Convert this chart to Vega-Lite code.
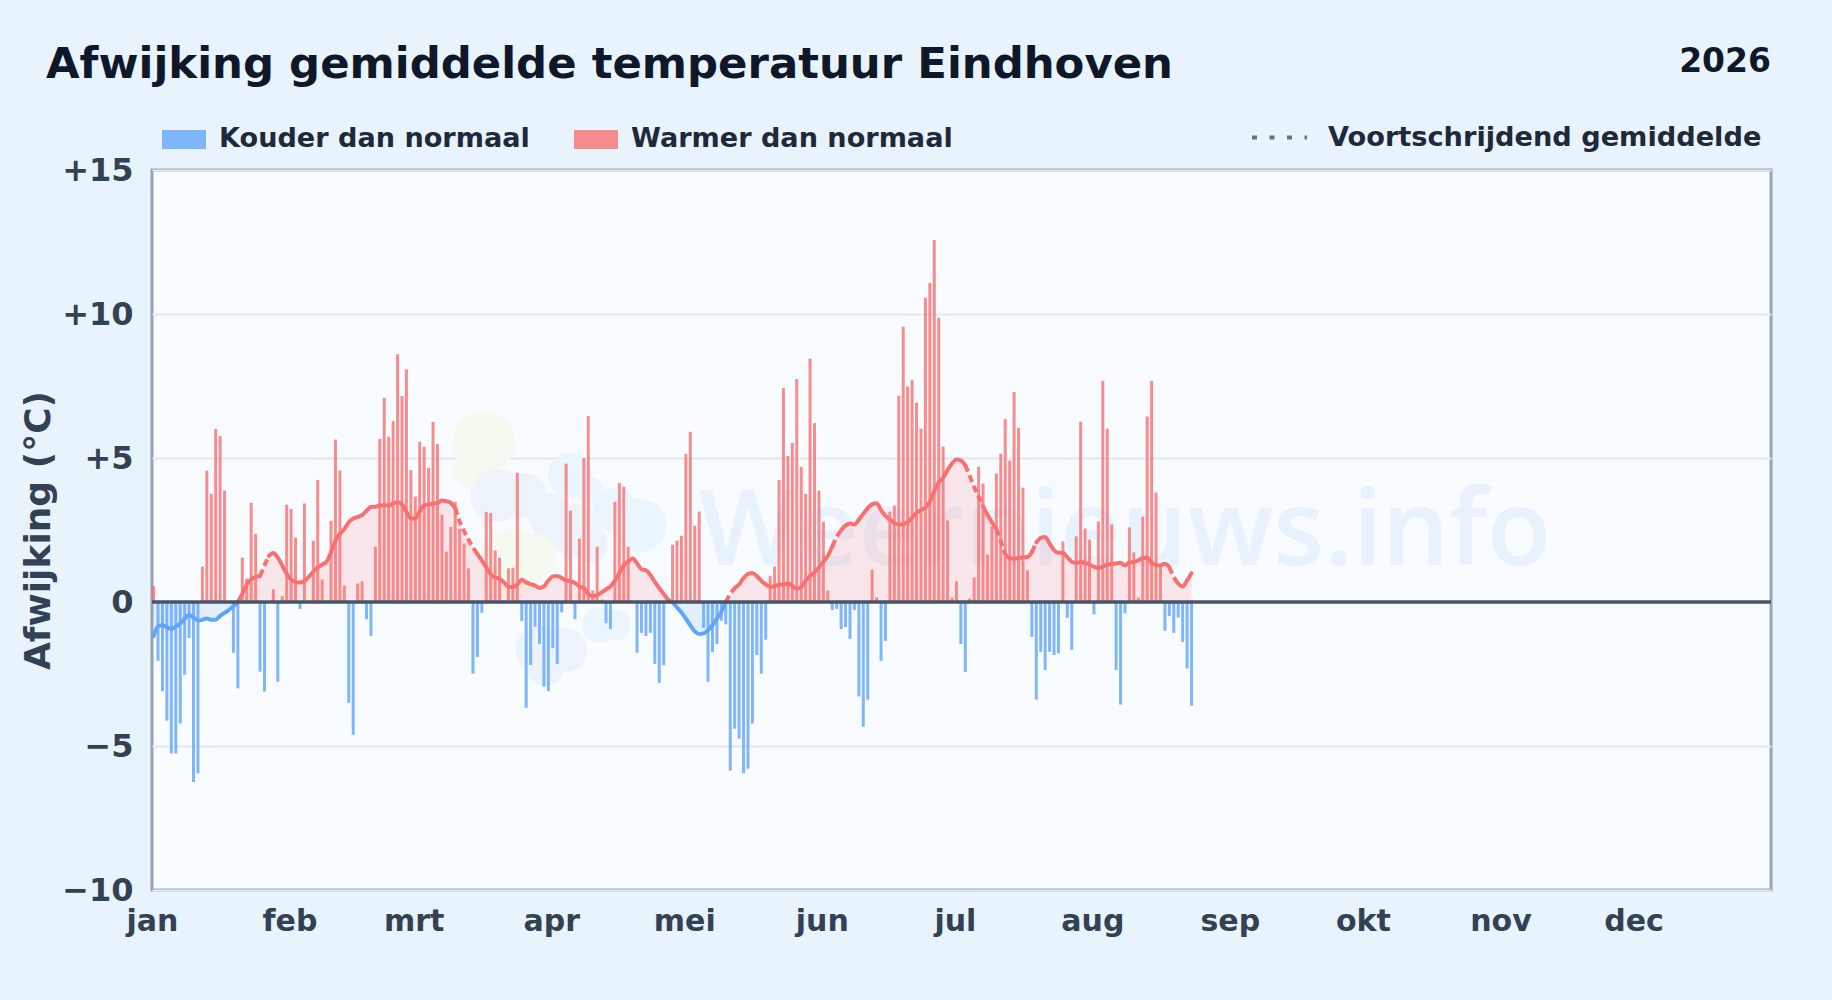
{"$schema":"https://vega.github.io/schema/vega-lite/v6.json","autosize":{"type":"none"},"width":1619,"height":720,"padding":{"left":152,"top":170,"right":61,"bottom":110},"background":"#e8f3fc",
"title":{"text":"Afwijking gemiddelde temperatuur Eindhoven","anchor":"start","frame":"group","dx":-106,"dy":75,"offset":0,"baseline":"alphabetic","font":"DejaVu Sans","fontWeight":"bold","fontSize":43.4,"color":"#0f172a"},
"view":{"fill":"#f8fbff","stroke":"#94a3b8","strokeWidth":3},
"datasets":{
"staven":[{"dag":0,"w":0.55,"s":"W"},{"dag":1,"w":-2.04,"s":"K"},{"dag":2,"w":-3.1,"s":"K"},{"dag":3,"w":-4.12,"s":"K"},{"dag":4,"w":-5.26,"s":"K"},{"dag":5,"w":-5.26,"s":"K"},{"dag":6,"w":-4.22,"s":"K"},{"dag":7,"w":-2.53,"s":"K"},{"dag":8,"w":-1.25,"s":"K"},{"dag":9,"w":-6.25,"s":"K"},{"dag":10,"w":-5.95,"s":"K"},{"dag":11,"w":1.23,"s":"W"},{"dag":12,"w":4.56,"s":"W"},{"dag":13,"w":3.76,"s":"W"},{"dag":14,"w":6.01,"s":"W"},{"dag":15,"w":5.76,"s":"W"},{"dag":16,"w":3.87,"s":"W"},{"dag":17,"w":0,"s":"W"},{"dag":18,"w":-1.76,"s":"K"},{"dag":19,"w":-3.0,"s":"K"},{"dag":20,"w":1.54,"s":"W"},{"dag":21,"w":0.81,"s":"W"},{"dag":22,"w":3.44,"s":"W"},{"dag":23,"w":2.37,"s":"W"},{"dag":24,"w":-2.42,"s":"K"},{"dag":25,"w":-3.11,"s":"K"},{"dag":26,"w":0,"s":"W"},{"dag":27,"w":0.44,"s":"W"},{"dag":28,"w":-2.77,"s":"K"},{"dag":29,"w":0.2,"s":"W"},{"dag":30,"w":3.38,"s":"W"},{"dag":31,"w":3.23,"s":"W"},{"dag":32,"w":2.24,"s":"W"},{"dag":33,"w":-0.24,"s":"K"},{"dag":34,"w":3.42,"s":"W"},{"dag":35,"w":0,"s":"W"},{"dag":36,"w":2.13,"s":"W"},{"dag":37,"w":4.24,"s":"W"},{"dag":38,"w":0.78,"s":"W"},{"dag":39,"w":0,"s":"W"},{"dag":40,"w":2.82,"s":"W"},{"dag":41,"w":5.64,"s":"W"},{"dag":42,"w":4.56,"s":"W"},{"dag":43,"w":0.57,"s":"W"},{"dag":44,"w":-3.5,"s":"K"},{"dag":45,"w":-4.61,"s":"K"},{"dag":46,"w":0.64,"s":"W"},{"dag":47,"w":0.72,"s":"W"},{"dag":48,"w":-0.6,"s":"K"},{"dag":49,"w":-1.18,"s":"K"},{"dag":50,"w":1.92,"s":"W"},{"dag":51,"w":5.66,"s":"W"},{"dag":52,"w":7.09,"s":"W"},{"dag":53,"w":5.74,"s":"W"},{"dag":54,"w":6.28,"s":"W"},{"dag":55,"w":8.6,"s":"W"},{"dag":56,"w":7.15,"s":"W"},{"dag":57,"w":8.08,"s":"W"},{"dag":58,"w":4.58,"s":"W"},{"dag":59,"w":3.66,"s":"W"},{"dag":60,"w":5.56,"s":"W"},{"dag":61,"w":5.39,"s":"W"},{"dag":62,"w":4.66,"s":"W"},{"dag":63,"w":6.25,"s":"W"},{"dag":64,"w":5.48,"s":"W"},{"dag":65,"w":3.03,"s":"W"},{"dag":66,"w":1.75,"s":"W"},{"dag":67,"w":2.61,"s":"W"},{"dag":68,"w":3.48,"s":"W"},{"dag":69,"w":2.54,"s":"W"},{"dag":70,"w":2.03,"s":"W"},{"dag":71,"w":1.17,"s":"W"},{"dag":72,"w":-2.49,"s":"K"},{"dag":73,"w":-1.91,"s":"K"},{"dag":74,"w":-0.37,"s":"K"},{"dag":75,"w":3.13,"s":"W"},{"dag":76,"w":3.09,"s":"W"},{"dag":77,"w":1.79,"s":"W"},{"dag":78,"w":1.54,"s":"W"},{"dag":79,"w":0,"s":"W"},{"dag":80,"w":1.17,"s":"W"},{"dag":81,"w":1.19,"s":"W"},{"dag":82,"w":4.49,"s":"W"},{"dag":83,"w":-0.66,"s":"K"},{"dag":84,"w":-3.67,"s":"K"},{"dag":85,"w":-2.19,"s":"K"},{"dag":86,"w":-0.86,"s":"K"},{"dag":87,"w":-1.46,"s":"K"},{"dag":88,"w":-2.94,"s":"K"},{"dag":89,"w":-3.09,"s":"K"},{"dag":90,"w":-1.59,"s":"K"},{"dag":91,"w":-2.15,"s":"K"},{"dag":92,"w":-0.36,"s":"K"},{"dag":93,"w":4.8,"s":"W"},{"dag":94,"w":3.17,"s":"W"},{"dag":95,"w":-0.6,"s":"K"},{"dag":96,"w":2.2,"s":"W"},{"dag":97,"w":5.0,"s":"W"},{"dag":98,"w":6.46,"s":"W"},{"dag":99,"w":0.4,"s":"W"},{"dag":100,"w":1.92,"s":"W"},{"dag":101,"w":0.08,"s":"W"},{"dag":102,"w":-0.74,"s":"K"},{"dag":103,"w":-0.94,"s":"K"},{"dag":104,"w":3.48,"s":"W"},{"dag":105,"w":4.13,"s":"W"},{"dag":106,"w":4.0,"s":"W"},{"dag":107,"w":1.92,"s":"W"},{"dag":108,"w":0,"s":"W"},{"dag":109,"w":-1.76,"s":"K"},{"dag":110,"w":-1.07,"s":"K"},{"dag":111,"w":-1.18,"s":"K"},{"dag":112,"w":-1.07,"s":"K"},{"dag":113,"w":-2.15,"s":"K"},{"dag":114,"w":-2.81,"s":"K"},{"dag":115,"w":-2.2,"s":"K"},{"dag":116,"w":0,"s":"W"},{"dag":117,"w":1.99,"s":"W"},{"dag":118,"w":2.13,"s":"W"},{"dag":119,"w":2.3,"s":"W"},{"dag":120,"w":5.14,"s":"W"},{"dag":121,"w":5.91,"s":"W"},{"dag":122,"w":2.65,"s":"W"},{"dag":123,"w":3.14,"s":"W"},{"dag":124,"w":-0.9,"s":"K"},{"dag":125,"w":-2.77,"s":"K"},{"dag":126,"w":-1.74,"s":"K"},{"dag":127,"w":-1.46,"s":"K"},{"dag":128,"w":-0.65,"s":"K"},{"dag":129,"w":-0.78,"s":"K"},{"dag":130,"w":-5.85,"s":"K"},{"dag":131,"w":-4.4,"s":"K"},{"dag":132,"w":-4.74,"s":"K"},{"dag":133,"w":-5.95,"s":"K"},{"dag":134,"w":-5.79,"s":"K"},{"dag":135,"w":-4.22,"s":"K"},{"dag":136,"w":-1.84,"s":"K"},{"dag":137,"w":-2.49,"s":"K"},{"dag":138,"w":-1.31,"s":"K"},{"dag":139,"w":0.91,"s":"W"},{"dag":140,"w":1.23,"s":"W"},{"dag":141,"w":4.24,"s":"W"},{"dag":142,"w":7.43,"s":"W"},{"dag":143,"w":5.07,"s":"W"},{"dag":144,"w":5.52,"s":"W"},{"dag":145,"w":7.74,"s":"W"},{"dag":146,"w":4.69,"s":"W"},{"dag":147,"w":3.76,"s":"W"},{"dag":148,"w":8.45,"s":"W"},{"dag":149,"w":6.21,"s":"W"},{"dag":150,"w":3.87,"s":"W"},{"dag":151,"w":2.79,"s":"W"},{"dag":152,"w":0.4,"s":"W"},{"dag":153,"w":-0.28,"s":"K"},{"dag":154,"w":-0.24,"s":"K"},{"dag":155,"w":-0.94,"s":"K"},{"dag":156,"w":-0.87,"s":"K"},{"dag":157,"w":-1.28,"s":"K"},{"dag":158,"w":-0.28,"s":"K"},{"dag":159,"w":-3.28,"s":"K"},{"dag":160,"w":-4.33,"s":"K"},{"dag":161,"w":-3.39,"s":"K"},{"dag":162,"w":1.13,"s":"W"},{"dag":163,"w":0.16,"s":"W"},{"dag":164,"w":-2.04,"s":"K"},{"dag":165,"w":-1.35,"s":"K"},{"dag":166,"w":3.13,"s":"W"},{"dag":167,"w":3.35,"s":"W"},{"dag":168,"w":7.16,"s":"W"},{"dag":169,"w":9.56,"s":"W"},{"dag":170,"w":7.48,"s":"W"},{"dag":171,"w":7.71,"s":"W"},{"dag":172,"w":6.92,"s":"W"},{"dag":173,"w":6.02,"s":"W"},{"dag":174,"w":10.56,"s":"W"},{"dag":175,"w":11.08,"s":"W"},{"dag":176,"w":12.57,"s":"W"},{"dag":177,"w":9.87,"s":"W"},{"dag":178,"w":5.4,"s":"W"},{"dag":179,"w":2.83,"s":"W"},{"dag":180,"w":0.15,"s":"W"},{"dag":181,"w":0.72,"s":"W"},{"dag":182,"w":-1.46,"s":"K"},{"dag":183,"w":-2.43,"s":"K"},{"dag":184,"w":0.12,"s":"W"},{"dag":185,"w":0.85,"s":"W"},{"dag":186,"w":4.7,"s":"W"},{"dag":187,"w":4.11,"s":"W"},{"dag":188,"w":1.65,"s":"W"},{"dag":189,"w":2.62,"s":"W"},{"dag":190,"w":4.46,"s":"W"},{"dag":191,"w":5.15,"s":"W"},{"dag":192,"w":6.35,"s":"W"},{"dag":193,"w":4.91,"s":"W"},{"dag":194,"w":7.29,"s":"W"},{"dag":195,"w":6.05,"s":"W"},{"dag":196,"w":3.97,"s":"W"},{"dag":197,"w":1.1,"s":"W"},{"dag":198,"w":-1.21,"s":"K"},{"dag":199,"w":-3.39,"s":"K"},{"dag":200,"w":-1.73,"s":"K"},{"dag":201,"w":-2.36,"s":"K"},{"dag":202,"w":-1.73,"s":"K"},{"dag":203,"w":-1.84,"s":"K"},{"dag":204,"w":-1.78,"s":"K"},{"dag":205,"w":2.1,"s":"W"},{"dag":206,"w":-0.55,"s":"K"},{"dag":207,"w":-1.66,"s":"K"},{"dag":208,"w":2.28,"s":"W"},{"dag":209,"w":6.26,"s":"W"},{"dag":210,"w":2.55,"s":"W"},{"dag":211,"w":2.17,"s":"W"},{"dag":212,"w":-0.43,"s":"K"},{"dag":213,"w":2.8,"s":"W"},{"dag":214,"w":7.68,"s":"W"},{"dag":215,"w":6.02,"s":"W"},{"dag":216,"w":2.69,"s":"W"},{"dag":217,"w":-2.36,"s":"K"},{"dag":218,"w":-3.56,"s":"K"},{"dag":219,"w":-0.39,"s":"K"},{"dag":220,"w":2.59,"s":"W"},{"dag":221,"w":1.72,"s":"W"},{"dag":222,"w":0.15,"s":"W"},{"dag":223,"w":2.97,"s":"W"},{"dag":224,"w":6.44,"s":"W"},{"dag":225,"w":7.68,"s":"W"},{"dag":226,"w":3.8,"s":"W"},{"dag":227,"w":1.27,"s":"W"},{"dag":228,"w":-1.0,"s":"K"},{"dag":229,"w":-0.49,"s":"K"},{"dag":230,"w":-1.07,"s":"K"},{"dag":231,"w":-0.54,"s":"K"},{"dag":232,"w":-1.39,"s":"K"},{"dag":233,"w":-2.31,"s":"K"},{"dag":234,"w":-3.6,"s":"K"}],
"lijn":[{"dag":0,"g":-1.18,"s":"K","d":1},{"dag":1,"g":-0.85,"s":"K","d":1},{"dag":2,"g":-0.81,"s":"K","d":1},{"dag":3,"g":-0.88,"s":"K","d":1},{"dag":4,"g":-0.94,"s":"K","d":1},{"dag":5,"g":-0.85,"s":"K","d":1},{"dag":6,"g":-0.75,"s":"K","d":1},{"dag":7,"g":-0.58,"s":"K","d":1},{"dag":8,"g":-0.45,"s":"K","d":1},{"dag":9,"g":-0.54,"s":"K","d":1},{"dag":10,"g":-0.64,"s":"K","d":1},{"dag":11,"g":-0.62,"s":"K","d":1},{"dag":12,"g":-0.57,"s":"K","d":1},{"dag":13,"g":-0.62,"s":"K","d":1},{"dag":14,"g":-0.62,"s":"K","d":1},{"dag":15,"g":-0.48,"s":"K","d":1},{"dag":16,"g":-0.38,"s":"K","d":1},{"dag":17,"g":-0.27,"s":"K","d":1},{"dag":18,"g":-0.15,"s":"K","d":1},{"dag":19,"g":0,"s":"K","d":1},
{"dag":19,"g":0,"s":"W","d":2},{"dag":20,"g":0.28,"s":"W","d":2},{"dag":21,"g":0.61,"s":"W","d":2},{"dag":22,"g":0.78,"s":"W","d":2},{"dag":23,"g":0.87,"s":"W","d":2},{"dag":24,"g":0.9,"s":"W","d":2},
{"dag":24,"g":0.9,"s":"W","d":3},{"dag":25,"g":1.27,"s":"W","d":3},{"dag":26,"g":1.6,"s":"W","d":3},
{"dag":26,"g":1.6,"s":"W","d":4},{"dag":27,"g":1.7,"s":"W","d":4},{"dag":28,"g":1.54,"s":"W","d":4},{"dag":29,"g":1.27,"s":"W","d":4},{"dag":30,"g":0.98,"s":"W","d":4},{"dag":31,"g":0.78,"s":"W","d":4},{"dag":32,"g":0.7,"s":"W","d":4},{"dag":33,"g":0.68,"s":"W","d":4},{"dag":34,"g":0.73,"s":"W","d":4},{"dag":35,"g":0.87,"s":"W","d":4},{"dag":36,"g":1.05,"s":"W","d":4},{"dag":37,"g":1.2,"s":"W","d":4},{"dag":38,"g":1.3,"s":"W","d":4},{"dag":39,"g":1.4,"s":"W","d":4},{"dag":40,"g":1.73,"s":"W","d":4},{"dag":41,"g":2.13,"s":"W","d":4},{"dag":42,"g":2.37,"s":"W","d":4},{"dag":43,"g":2.53,"s":"W","d":4},{"dag":44,"g":2.77,"s":"W","d":4},{"dag":45,"g":2.9,"s":"W","d":4},{"dag":46,"g":2.95,"s":"W","d":4},{"dag":47,"g":3.02,"s":"W","d":4},{"dag":48,"g":3.17,"s":"W","d":4},{"dag":49,"g":3.3,"s":"W","d":4},{"dag":50,"g":3.31,"s":"W","d":4},{"dag":51,"g":3.35,"s":"W","d":4},{"dag":52,"g":3.36,"s":"W","d":4},{"dag":53,"g":3.35,"s":"W","d":4},{"dag":54,"g":3.42,"s":"W","d":4},{"dag":55,"g":3.46,"s":"W","d":4},{"dag":56,"g":3.39,"s":"W","d":4},{"dag":57,"g":3.13,"s":"W","d":4},{"dag":58,"g":2.9,"s":"W","d":4},{"dag":59,"g":2.9,"s":"W","d":4},{"dag":60,"g":3.15,"s":"W","d":4},{"dag":61,"g":3.35,"s":"W","d":4},{"dag":62,"g":3.39,"s":"W","d":4},{"dag":63,"g":3.42,"s":"W","d":4},{"dag":64,"g":3.44,"s":"W","d":4},{"dag":65,"g":3.52,"s":"W","d":4},{"dag":66,"g":3.5,"s":"W","d":4},{"dag":67,"g":3.44,"s":"W","d":4},{"dag":68,"g":3.26,"s":"W","d":4},
{"dag":68,"g":3.26,"s":"W","d":5},{"dag":69,"g":2.79,"s":"W","d":5},{"dag":70,"g":2.46,"s":"W","d":5},{"dag":71,"g":2.16,"s":"W","d":5},{"dag":72,"g":1.89,"s":"W","d":5},{"dag":73,"g":1.67,"s":"W","d":5},
{"dag":73,"g":1.67,"s":"W","d":6},{"dag":74,"g":1.44,"s":"W","d":6},{"dag":75,"g":1.2,"s":"W","d":6},{"dag":76,"g":0.97,"s":"W","d":6},{"dag":77,"g":0.85,"s":"W","d":6},{"dag":78,"g":0.81,"s":"W","d":6},{"dag":79,"g":0.68,"s":"W","d":6},{"dag":80,"g":0.52,"s":"W","d":6},{"dag":81,"g":0.52,"s":"W","d":6},{"dag":82,"g":0.61,"s":"W","d":6},{"dag":83,"g":0.77,"s":"W","d":6},{"dag":84,"g":0.68,"s":"W","d":6},{"dag":85,"g":0.62,"s":"W","d":6},{"dag":86,"g":0.57,"s":"W","d":6},{"dag":87,"g":0.49,"s":"W","d":6},{"dag":88,"g":0.54,"s":"W","d":6},{"dag":89,"g":0.74,"s":"W","d":6},{"dag":90,"g":0.89,"s":"W","d":6},{"dag":91,"g":0.9,"s":"W","d":6},{"dag":92,"g":0.83,"s":"W","d":6},{"dag":93,"g":0.75,"s":"W","d":6},{"dag":94,"g":0.72,"s":"W","d":6},{"dag":95,"g":0.66,"s":"W","d":6},{"dag":96,"g":0.54,"s":"W","d":6},{"dag":97,"g":0.48,"s":"W","d":6},{"dag":98,"g":0.28,"s":"W","d":6},{"dag":99,"g":0.21,"s":"W","d":6},{"dag":100,"g":0.25,"s":"W","d":6},{"dag":101,"g":0.33,"s":"W","d":6},{"dag":102,"g":0.44,"s":"W","d":6},{"dag":103,"g":0.54,"s":"W","d":6},{"dag":104,"g":0.74,"s":"W","d":6},{"dag":105,"g":1.0,"s":"W","d":6},{"dag":106,"g":1.27,"s":"W","d":6},{"dag":107,"g":1.4,"s":"W","d":6},{"dag":108,"g":1.51,"s":"W","d":6},{"dag":109,"g":1.34,"s":"W","d":6},{"dag":110,"g":1.14,"s":"W","d":6},{"dag":111,"g":1.1,"s":"W","d":6},{"dag":112,"g":0.94,"s":"W","d":6},{"dag":113,"g":0.7,"s":"W","d":6},{"dag":114,"g":0.48,"s":"W","d":6},{"dag":115,"g":0.28,"s":"W","d":6},{"dag":116,"g":0.08,"s":"W","d":6},{"dag":117,"g":0,"s":"W","d":6},
{"dag":117,"g":0,"s":"K","d":7},{"dag":118,"g":-0.19,"s":"K","d":7},{"dag":119,"g":-0.36,"s":"K","d":7},{"dag":120,"g":-0.58,"s":"K","d":7},{"dag":121,"g":-0.81,"s":"K","d":7},{"dag":122,"g":-1.02,"s":"K","d":7},{"dag":123,"g":-1.11,"s":"K","d":7},{"dag":124,"g":-1.09,"s":"K","d":7},{"dag":125,"g":-0.98,"s":"K","d":7},{"dag":126,"g":-0.81,"s":"K","d":7},{"dag":127,"g":-0.58,"s":"K","d":7},{"dag":128,"g":-0.34,"s":"K","d":7},{"dag":129,"g":0,"s":"K","d":7},
{"dag":129,"g":0,"s":"W","d":8},{"dag":130,"g":0.28,"s":"W","d":8},{"dag":131,"g":0.48,"s":"W","d":8},
{"dag":131,"g":0.48,"s":"W","d":9},{"dag":132,"g":0.61,"s":"W","d":9},{"dag":133,"g":0.83,"s":"W","d":9},{"dag":134,"g":0.97,"s":"W","d":9},{"dag":135,"g":1.01,"s":"W","d":9},{"dag":136,"g":0.9,"s":"W","d":9},{"dag":137,"g":0.74,"s":"W","d":9},{"dag":138,"g":0.61,"s":"W","d":9},{"dag":139,"g":0.53,"s":"W","d":9},{"dag":140,"g":0.54,"s":"W","d":9},{"dag":141,"g":0.6,"s":"W","d":9},{"dag":142,"g":0.61,"s":"W","d":9},{"dag":143,"g":0.64,"s":"W","d":9},{"dag":144,"g":0.57,"s":"W","d":9},{"dag":145,"g":0.46,"s":"W","d":9},{"dag":146,"g":0.52,"s":"W","d":9},{"dag":147,"g":0.74,"s":"W","d":9},{"dag":148,"g":0.9,"s":"W","d":9},{"dag":149,"g":1.03,"s":"W","d":9},{"dag":150,"g":1.2,"s":"W","d":9},{"dag":151,"g":1.4,"s":"W","d":9},{"dag":152,"g":1.6,"s":"W","d":9},{"dag":153,"g":1.93,"s":"W","d":9},
{"dag":153,"g":1.93,"s":"W","d":10},{"dag":154,"g":2.26,"s":"W","d":10},{"dag":155,"g":2.49,"s":"W","d":10},
{"dag":155,"g":2.49,"s":"W","d":11},{"dag":156,"g":2.66,"s":"W","d":11},{"dag":157,"g":2.73,"s":"W","d":11},{"dag":158,"g":2.69,"s":"W","d":11},{"dag":159,"g":2.86,"s":"W","d":11},{"dag":160,"g":3.06,"s":"W","d":11},{"dag":161,"g":3.26,"s":"W","d":11},{"dag":162,"g":3.39,"s":"W","d":11},{"dag":163,"g":3.43,"s":"W","d":11},{"dag":164,"g":3.19,"s":"W","d":11},{"dag":165,"g":2.99,"s":"W","d":11},{"dag":166,"g":2.86,"s":"W","d":11},{"dag":167,"g":2.75,"s":"W","d":11},{"dag":168,"g":2.69,"s":"W","d":11},{"dag":169,"g":2.7,"s":"W","d":11},{"dag":170,"g":2.77,"s":"W","d":11},{"dag":171,"g":2.93,"s":"W","d":11},{"dag":172,"g":3.09,"s":"W","d":11},{"dag":173,"g":3.19,"s":"W","d":11},{"dag":174,"g":3.28,"s":"W","d":11},{"dag":175,"g":3.48,"s":"W","d":11},{"dag":176,"g":3.85,"s":"W","d":11},{"dag":177,"g":4.15,"s":"W","d":11},{"dag":178,"g":4.32,"s":"W","d":11},{"dag":179,"g":4.58,"s":"W","d":11},{"dag":180,"g":4.81,"s":"W","d":11},{"dag":181,"g":4.95,"s":"W","d":11},{"dag":182,"g":4.91,"s":"W","d":11},{"dag":183,"g":4.75,"s":"W","d":11},
{"dag":183,"g":4.75,"s":"W","d":12},{"dag":184,"g":4.38,"s":"W","d":12},{"dag":185,"g":3.99,"s":"W","d":12},{"dag":186,"g":3.66,"s":"W","d":12},{"dag":187,"g":3.32,"s":"W","d":12},
{"dag":187,"g":3.32,"s":"W","d":13},{"dag":188,"g":3.03,"s":"W","d":13},{"dag":189,"g":2.77,"s":"W","d":13},{"dag":190,"g":2.53,"s":"W","d":13},
{"dag":190,"g":2.53,"s":"W","d":14},{"dag":191,"g":2.11,"s":"W","d":14},{"dag":192,"g":1.67,"s":"W","d":14},
{"dag":192,"g":1.67,"s":"W","d":15},{"dag":193,"g":1.52,"s":"W","d":15},{"dag":194,"g":1.51,"s":"W","d":15},{"dag":195,"g":1.52,"s":"W","d":15},{"dag":196,"g":1.55,"s":"W","d":15},{"dag":197,"g":1.56,"s":"W","d":15},{"dag":198,"g":1.73,"s":"W","d":15},
{"dag":198,"g":1.73,"s":"W","d":16},{"dag":199,"g":2.07,"s":"W","d":16},
{"dag":199,"g":2.07,"s":"W","d":17},{"dag":200,"g":2.23,"s":"W","d":17},{"dag":201,"g":2.26,"s":"W","d":17},{"dag":202,"g":2.03,"s":"W","d":17},{"dag":203,"g":1.8,"s":"W","d":17},{"dag":204,"g":1.71,"s":"W","d":17},{"dag":205,"g":1.71,"s":"W","d":17},{"dag":206,"g":1.56,"s":"W","d":17},{"dag":207,"g":1.4,"s":"W","d":17},{"dag":208,"g":1.36,"s":"W","d":17},{"dag":209,"g":1.39,"s":"W","d":17},{"dag":210,"g":1.36,"s":"W","d":17},{"dag":211,"g":1.3,"s":"W","d":17},{"dag":212,"g":1.23,"s":"W","d":17},{"dag":213,"g":1.18,"s":"W","d":17},{"dag":214,"g":1.23,"s":"W","d":17},{"dag":215,"g":1.3,"s":"W","d":17},{"dag":216,"g":1.32,"s":"W","d":17},{"dag":217,"g":1.34,"s":"W","d":17},{"dag":218,"g":1.36,"s":"W","d":17},{"dag":219,"g":1.27,"s":"W","d":17},{"dag":220,"g":1.37,"s":"W","d":17},{"dag":221,"g":1.39,"s":"W","d":17},{"dag":222,"g":1.44,"s":"W","d":17},{"dag":223,"g":1.53,"s":"W","d":17},{"dag":224,"g":1.54,"s":"W","d":17},{"dag":225,"g":1.36,"s":"W","d":17},{"dag":226,"g":1.29,"s":"W","d":17},{"dag":227,"g":1.27,"s":"W","d":17},{"dag":228,"g":1.33,"s":"W","d":17},{"dag":229,"g":1.21,"s":"W","d":17},
{"dag":229,"g":1.21,"s":"W","d":18},{"dag":230,"g":0.87,"s":"W","d":18},{"dag":231,"g":0.64,"s":"W","d":18},
{"dag":231,"g":0.64,"s":"W","d":19},{"dag":232,"g":0.54,"s":"W","d":19},{"dag":233,"g":0.75,"s":"W","d":19},{"dag":234,"g":1.0,"s":"W","d":19}],
"logo":[{"dag":74.5,"w":5.57,"o":3848,"t":"g"},{"dag":71.3,"w":4.56,"o":1257,"t":"g"},{"dag":81,"w":1.37,"o":4418,"t":"g"},{"dag":86,"w":1.6,"o":1963,"t":"g"},{"dag":93.9,"w":4.4,"o":1963,"t":"l"},{"dag":98.4,"w":3.9,"o":707,"t":"l"},{"dag":109.6,"w":2.65,"o":2827,"t":"l"},{"dag":104,"w":3.2,"o":1963,"t":"l"},{"dag":100.6,"w":-0.8,"o":1257,"t":"l"},{"dag":104,"w":-0.8,"o":962,"t":"l"},{"dag":77.4,"w":3.7,"o":2827,"t":"b"},{"dag":83.7,"w":3.7,"o":1963,"t":"b"},{"dag":89.4,"w":3.0,"o":1963,"t":"b"},{"dag":95,"w":2.5,"o":2827,"t":"b"},{"dag":98.4,"w":2.0,"o":1257,"t":"b"},{"dag":87.1,"w":-1.68,"o":2376,"t":"b"},{"dag":88.2,"w":-2.2,"o":1590,"t":"b"},{"dag":92.7,"w":-1.68,"o":1963,"t":"b"}]},
"layer":[
{"data":{"name":"logo"},"mark":{"type":"point","filled":true,"shape":"circle","opacity":1},"encoding":{"x":{"field":"dag","type":"quantitative","scale":{"domain":[-0.36,364.64],"nice":false,"zero":false,"padding":0},"axis":{"values":[-0.36,30.64,58.64,89.64,119.64,150.64,180.64,211.64,242.64,272.64,303.64,333.64],"title":null,"grid":false,"domain":false,"ticks":false,"labelFlush":false,"labelPadding":16,"labelFont":"DejaVu Sans","labelFontWeight":"bold","labelFontSize":30,"labelColor":"#334155","labelExpr":"['jan','feb','mrt','apr','mei','jun','jul','aug','sep','okt','nov','dec'][month(datetime(2026,0,1+ceil(datum.value)))]"}},"y":{"field":"w","type":"quantitative","scale":{"domain":[-10,15],"nice":false},"axis":{"values":[-10,-5,0,5,10,15],"title":"Afwijking (°C)","titleFont":"DejaVu Sans","titleFontWeight":"bold","titleFontSize":36,"titleColor":"#334155","titlePadding":4,"grid":true,"gridColor":"#e2e8f0","gridWidth":2,"domain":false,"ticks":false,"labelFlush":false,"labelPadding":19,"labelFont":"DejaVu Sans","labelFontWeight":"bold","labelFontSize":32,"labelColor":"#334155","labelExpr":"datum.value>0?'+'+datum.value:datum.value<0?'−'+abs(datum.value):'0'"}},"size":{"field":"o","type":"quantitative","scale":{"domain":[0,5000],"range":[0,5000],"zero":true},"legend":null},"fill":{"field":"t","type":"nominal","scale":{"domain":["g","b","l"],"range":["#f4faf0","#edf3fb","#ebf5fe"]},"legend":null}}},
{"data":{"values":[{"dag":219,"w":1.27,"tekst":"Weernieuws.info"}]},"mark":{"type":"text","font":"Open Sans","fontWeight":600,"fontSize":105,"align":"center","baseline":"alphabetic","color":"#3b82f6","opacity":0.08},"encoding":{"x":{"field":"dag","type":"quantitative"},"y":{"field":"w","type":"quantitative"},"text":{"field":"tekst"}}},
{"data":{"name":"lijn"},"transform":[{"filter":{"field":"s","equal":"K"}}],"mark":{"type":"area","interpolate":"monotone","opacity":0.15,"color":"#60a5fa"},"encoding":{"x":{"field":"dag","type":"quantitative"},"y":{"field":"g","type":"quantitative"},"y2":{"datum":0},"detail":{"field":"d"}}},
{"data":{"name":"lijn"},"transform":[{"filter":{"field":"s","equal":"W"}}],"mark":{"type":"area","interpolate":"monotone","opacity":0.15,"color":"#f87171"},"encoding":{"x":{"field":"dag","type":"quantitative"},"y":{"field":"g","type":"quantitative"},"y2":{"datum":0},"detail":{"field":"d"}}},
{"data":{"name":"staven"},"mark":{"type":"bar","width":3,"opacity":0.8,"clip":true},"encoding":{"x":{"field":"dag","type":"quantitative"},"y":{"field":"w","type":"quantitative"},"color":{"field":"s","type":"nominal","scale":{"domain":["K","W"],"range":["#60a5fa","#f87171"]},"legend":{"orient":"none","legendX":10,"legendY":-53,"direction":"horizontal","columns":2,"columnPadding":44,"title":null,"padding":0,"symbolType":"M-1,-0.43H1V0.43H-1Z","symbolSize":1936,"symbolOpacity":0.8,"symbolStrokeWidth":0,"labelOffset":13,"labelFont":"DejaVu Sans","labelFontWeight":"bold","labelFontSize":27.1,"labelColor":"#1e293b","labelLimit":500,"labelExpr":"datum.label=='K'?'Kouder dan normaal':'Warmer dan normaal'"}}}},
{"data":{"name":"lijn"},"transform":[{"filter":{"not":{"field":"d","oneOf":[3,5,8,10,12,14,16,18]}}}],"mark":{"type":"line","interpolate":"monotone","strokeWidth":4,"strokeCap":"round"},"encoding":{"x":{"field":"dag","type":"quantitative"},"y":{"field":"g","type":"quantitative"},"color":{"field":"s","type":"nominal"},"detail":{"field":"d"}}},
{"data":{"name":"lijn"},"transform":[{"filter":{"field":"d","oneOf":[3,5,8,10,12,14,16,18]}}],"mark":{"type":"line","interpolate":"monotone","strokeWidth":4,"strokeDash":[7,4]},"encoding":{"x":{"field":"dag","type":"quantitative"},"y":{"field":"g","type":"quantitative"},"color":{"field":"s","type":"nominal"},"detail":{"field":"d"}}},
{"data":{"values":[{"dag":0,"w":0,"naam":"Voortschrijdend gemiddelde"}]},"mark":{"type":"line","color":"#64748b","strokeWidth":4},"encoding":{"x":{"field":"dag","type":"quantitative"},"y":{"field":"w","type":"quantitative"},"strokeDash":{"field":"naam","type":"nominal","scale":{"domain":["Voortschrijdend gemiddelde"],"range":[[5,12.5]]},"legend":{"orient":"none","legendX":1098,"legendY":-62,"title":null,"padding":0,"symbolType":"stroke","symbolSize":3025,"symbolStrokeColor":"#64748b","symbolStrokeWidth":4,"symbolDash":[5,12.5],"labelOffset":19,"labelFont":"DejaVu Sans","labelFontWeight":"bold","labelFontSize":27.2,"labelColor":"#1e293b","labelLimit":600}}}},
{"data":{"values":[{"nul":0}]},"mark":{"type":"rule","color":"#475569","strokeWidth":3.5},"encoding":{"y":{"field":"nul","type":"quantitative"}}},
{"data":{"values":[{"dag":364.64,"jaar":"2026"}]},"mark":{"type":"text","font":"DejaVu Sans","fontWeight":"bold","fontSize":33,"align":"right","baseline":"alphabetic","color":"#0f172a"},"encoding":{"x":{"field":"dag","type":"quantitative"},"y":{"value":-98},"text":{"field":"jaar"}}}
]}
